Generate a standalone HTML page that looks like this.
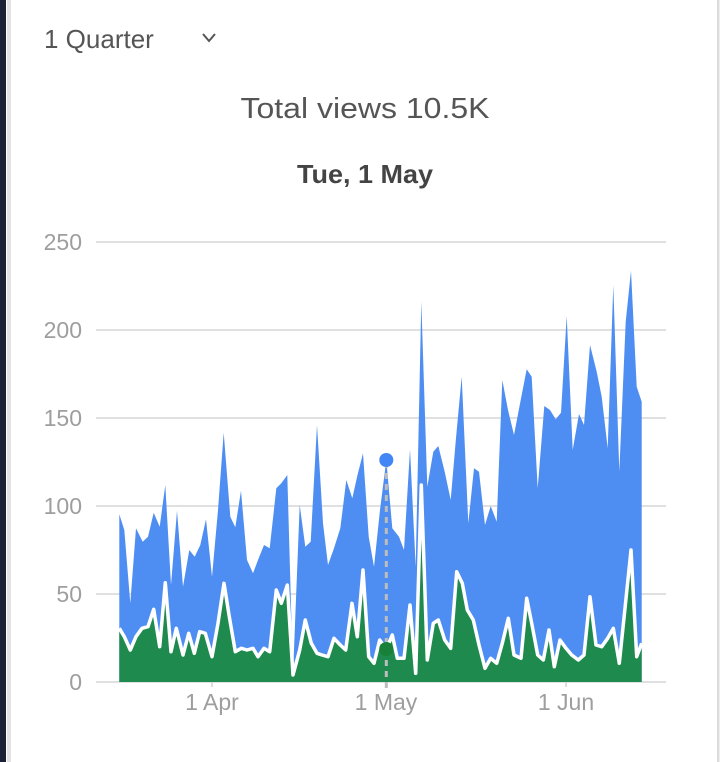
<!DOCTYPE html>
<html>
<head>
<meta charset="utf-8">
<style>
html,body{margin:0;padding:0;background:#fff;}
body{width:725px;height:762px;overflow:hidden;position:relative;font-family:"Liberation Sans",sans-serif;}
svg{position:absolute;left:0;top:0;}
</style>
</head>
<body>
<svg width="725" height="762" viewBox="0 0 725 762" xmlns="http://www.w3.org/2000/svg">
  <!-- frame -->
  <rect x="0" y="0" width="725" height="762" fill="#ffffff"/>
  <rect x="0" y="0" width="6" height="762" fill="#1b2036"/>
  <rect x="7" y="0" width="4" height="762" fill="#e2e2e2"/>
  <rect x="717" y="0" width="2.5" height="762" fill="#dcdcdc"/>

  <!-- header texts -->
  <text x="44" y="48" font-family="Liberation Sans, sans-serif" font-size="26" fill="#555555">1 Quarter</text>
  <polyline points="203,34 209,41 215,34" fill="none" stroke="#555555" stroke-width="2"/>
  <text x="365" y="118" text-anchor="middle" font-family="Liberation Sans, sans-serif" font-size="29" fill="#555555" textLength="249" lengthAdjust="spacingAndGlyphs">Total views 10.5K</text>
  <text x="365" y="183" text-anchor="middle" font-family="Liberation Sans, sans-serif" font-size="26" font-weight="bold" fill="#444444" textLength="136" lengthAdjust="spacingAndGlyphs">Tue, 1 May</text>

  <!-- gridlines -->
  <g stroke="#e0e0e0" stroke-width="2">
    <line x1="96" y1="242" x2="666" y2="242"/>
    <line x1="96" y1="330" x2="666" y2="330"/>
    <line x1="96" y1="418" x2="666" y2="418"/>
    <line x1="96" y1="506" x2="666" y2="506"/>
    <line x1="96" y1="594" x2="666" y2="594"/>
    <line x1="96" y1="682" x2="666" y2="682"/>
  </g>
  <g stroke="#d0d0d0" stroke-width="1.5">
    <line x1="212" y1="682" x2="212" y2="687"/>
    <line x1="566" y1="682" x2="566" y2="687"/>
  </g>

  <!-- y labels -->
  <g font-family="Liberation Sans, sans-serif" font-size="23" fill="#9e9e9e" text-anchor="end">
    <text x="82" y="250">250</text>
    <text x="82" y="338">200</text>
    <text x="82" y="426">150</text>
    <text x="82" y="514">100</text>
    <text x="82" y="602">50</text>
    <text x="82" y="690">0</text>
  </g>
  <!-- x labels -->
  <g font-family="Liberation Sans, sans-serif" font-size="23" fill="#9e9e9e" text-anchor="middle">
    <text x="212" y="710">1 Apr</text>
    <text x="386" y="710">1 May</text>
    <text x="566" y="710">1 Jun</text>
  </g>

  <!-- blue area -->
  <polygon fill="#4e8ef2" points="119.3,682 119.3,514.3 124.3,530 130.3,603.3 136,528.3 142.7,541.7 148,536.7 153.7,512.7 159.7,526.7 165.3,485 171,585 177,510.7 183,586.7 189.3,550 194.7,556.7 200.3,545 206,519.3 212,576.7 218,510 223.7,432.7 230.3,516.7 235.3,527.3 241,490.7 247,560 253,573.3 258,560 264,545 269.7,548.3 276.3,488.3 281.3,483.3 287.3,475 293,675 299.7,505 305.3,546.7 310.7,541.7 317,425 323,523.3 328,565 334,548.3 340.3,528.3 346.3,480 352.3,498.3 357.5,475 363,453.3 368.7,536.7 374,566.7 380,510 386.3,460 392.3,528.3 399,536.7 404,550 410,449.3 415.7,566.7 421.3,301.7 427.3,486.7 433.3,451.7 438.3,446 444.7,471.7 450.7,500 456,438 461.7,376.7 468.3,523.3 474,468.3 479,471.7 485,525 490.7,506 496.7,521.7 502.3,380 508,410 514,435 520.7,400 526.7,369.3 531.7,376.7 537.7,488.3 544.3,406 550,410 555.7,419.3 561,412.7 566.7,316 572.7,450 579,414 584,425 590,345 596.7,371.7 601.7,396.7 607.7,448.3 613.3,285 619.3,471.7 625.7,321.7 631,270.7 636.7,386.7 641.7,401.7 641.7,682"/>

  <!-- green area -->
  <polygon fill="#1f8a4d" points="119.3,682 119.3,628.3 124.3,636.7 130.3,650 136,636.7 142,628.3 148,626.7 153.7,609.3 159.7,646.7 165.3,582.7 171,651.7 176.3,628.3 183,655 188.7,633.3 194.3,653.3 199.7,631.7 205.3,633.3 212,656.7 218,623.3 224,583.3 229.3,616.7 235.3,651.7 241.3,648.3 247,650 253,648.3 258,656.7 264,648.3 269.7,651.7 276.3,590 281.3,603.3 287.3,585 293,675 299.7,650 305.3,620 311.3,643.3 317,653.3 322,655 328,656.7 334,638.3 340.3,645 345.7,650 352,603.3 357.3,636.7 363,570 368.7,656.7 374,663.3 379.7,640 386.3,649 392.3,635 397.3,658.3 404,658.3 410,605 415.7,673.3 421.3,485 427.3,660 433.3,623.3 438.3,620 444.7,640 450.7,648.3 456.7,571.7 462.3,583.3 467.3,610 473.3,620 479,645 485,668.3 490.7,658.3 496.7,663.3 502.3,643.3 508.3,618.3 514,655 521,658.3 526.7,598.3 531.7,623.3 537.7,655 543.3,660 549,630 554.3,666.7 560,640 566,648.3 571.7,655 578.3,660 584,655 590,596.7 596,645 601.7,646.7 607.7,638.3 613.3,628.3 619.3,663.3 625,608.3 631,550 636.7,656.7 641.7,643.3 641.7,682"/>

  <!-- white line -->
  <polyline fill="none" stroke="#ffffff" stroke-width="3.5" stroke-linejoin="round" points="119.3,628.3 124.3,636.7 130.3,650 136,636.7 142,628.3 148,626.7 153.7,609.3 159.7,646.7 165.3,582.7 171,651.7 176.3,628.3 183,655 188.7,633.3 194.3,653.3 199.7,631.7 205.3,633.3 212,656.7 218,623.3 224,583.3 229.3,616.7 235.3,651.7 241.3,648.3 247,650 253,648.3 258,656.7 264,648.3 269.7,651.7 276.3,590 281.3,603.3 287.3,585 293,675 299.7,650 305.3,620 311.3,643.3 317,653.3 322,655 328,656.7 334,638.3 340.3,645 345.7,650 352,603.3 357.3,636.7 363,570 368.7,656.7 374,663.3 379.7,640 386.3,649 392.3,635 397.3,658.3 404,658.3 410,605 415.7,673.3 421.3,485 427.3,660 433.3,623.3 438.3,620 444.7,640 450.7,648.3 456.7,571.7 462.3,583.3 467.3,610 473.3,620 479,645 485,668.3 490.7,658.3 496.7,663.3 502.3,643.3 508.3,618.3 514,655 521,658.3 526.7,598.3 531.7,623.3 537.7,655 543.3,660 549,630 554.3,666.7 560,640 566,648.3 571.7,655 578.3,660 584,655 590,596.7 596,645 601.7,646.7 607.7,638.3 613.3,628.3 619.3,663.3 625,608.3 631,550 636.7,656.7 641.7,643.3"/>

  <!-- hover marker -->
  <line x1="386.3" y1="462" x2="386.3" y2="690" stroke="#bdbdbd" stroke-width="3" stroke-dasharray="6 5"/>
  <circle cx="386.3" cy="460" r="7" fill="#4285f4"/>
  <circle cx="386.3" cy="649" r="7" fill="#188038"/>
</svg>
</body>
</html>
